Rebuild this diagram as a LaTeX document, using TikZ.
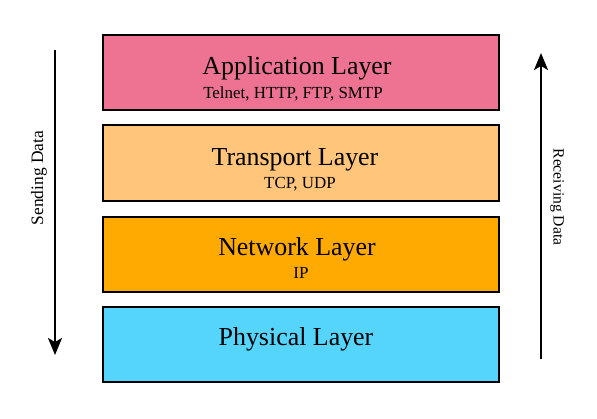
\documentclass[tikz,border=0pt]{standalone}
\usepackage{fontspec}
\setmainfont{Liberation Serif}
\usetikzlibrary{arrows.meta}
\definecolor{appc}{RGB}{238,114,145}
\definecolor{trac}{RGB}{255,197,122}
\definecolor{netc}{RGB}{255,170,0}
\definecolor{phyc}{RGB}{85,213,251}
\tikzset{
  layerbox/.style={draw=black, line width=2bp},
  titletext/.style={anchor=base, inner sep=0pt, font=\fontsize{26}{30}\selectfont},
  subtext/.style={anchor=base, inner sep=0pt, font=\fontsize{17}{20}\selectfont},
  flow/.style={line width=2bp, -{Stealth[length=17bp,width=14bp,inset=4bp]}},
  sidetext/.style={inner sep=0pt}
}
\begin{document}
\begin{tikzpicture}[x=1bp,y=-1bp]
\useasboundingbox (0,0) rectangle (597,418);
% boxes
\filldraw[layerbox, fill=appc] (103,35) rectangle (499,110);
\filldraw[layerbox, fill=trac] (103,125) rectangle (499,201);
\filldraw[layerbox, fill=netc] (103,217) rectangle (499,292);
\filldraw[layerbox, fill=phyc] (103,307) rectangle (499,382);
% texts
\node[titletext] (appt) at (297,74) {Application Layer};
\node[subtext] (apps) at (293,98) {Telnet, HTTP, FTP, SMTP};
\node[titletext] (trat) at (295,165) {Transport Layer};
\node[subtext] (tras) at (300,188) {TCP, UDP};
\node[titletext] (nett) at (297,255) {Network Layer};
\node[subtext] (nets) at (301,278) {IP};
\node[titletext] (phyt) at (296,345) {Physical Layer};
% arrows
\coordinate (s1) at (55,50);
\coordinate (s2) at (55,355);
\coordinate (r1) at (541,359);
\coordinate (r2) at (541,53);
\draw[flow] (s1) -- (s2);
\draw[flow] (r1) -- (r2);
\node[sidetext, rotate=90, font=\fontsize{17.5}{20}\selectfont] (send) at (39,178) {Sending Data};
\node[sidetext, rotate=-90, font=\fontsize{15.7}{18}\selectfont] (recv) at (557,197) {Receiving Data};
\end{tikzpicture}
\end{document}
